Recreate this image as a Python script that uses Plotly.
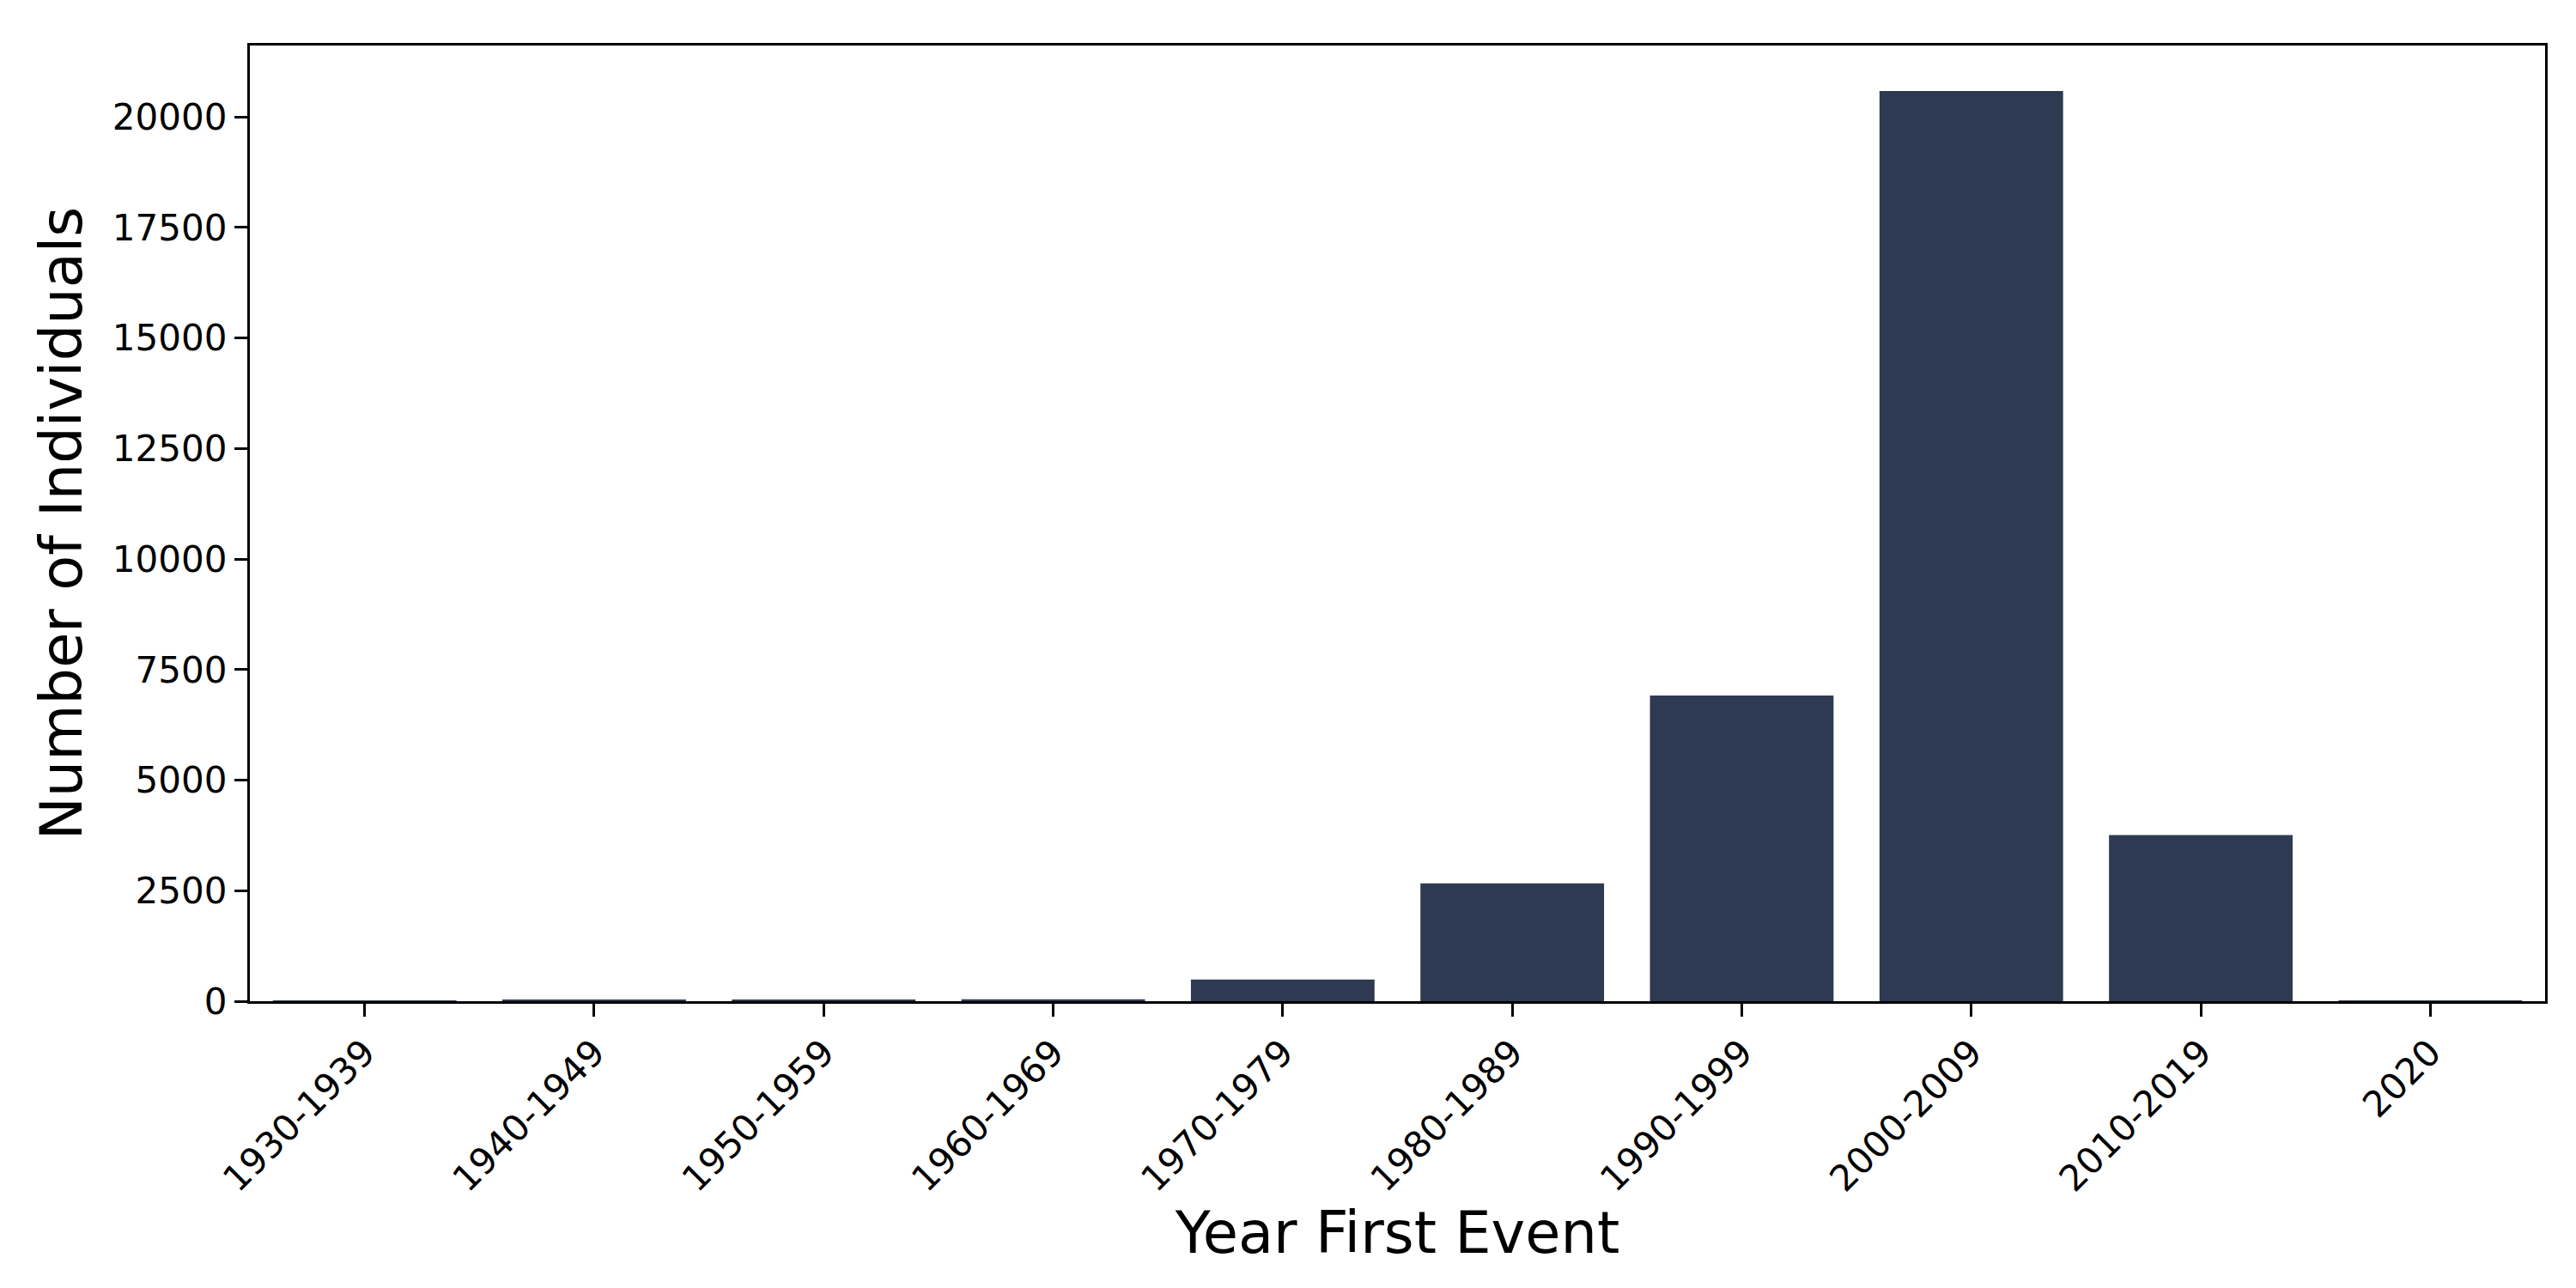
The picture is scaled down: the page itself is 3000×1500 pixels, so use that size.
import plotly.graph_objects as go

# decades of first event and how many individuals
decades = ["1930-1939", "1940-1949", "1950-1959", "1960-1969", "1970-1979",
           "1980-1989", "1990-1999", "2000-2009", "2010-2019", "2020"]
counts = [3, 25, 25, 45, 490, 2665, 6915, 20585, 3760, 1]

bar_color = "#2D3A51"
y_ticks = [0, 2500, 5000, 7500, 10000, 12500, 15000, 17500, 20000]

fig = go.Figure(data=[go.Bar(
    x=decades,
    y=counts,
    width=0.8,
    marker=dict(color=bar_color, line=dict(width=0)),
)])

fig.update_layout(
    width=3000,
    height=1500,
    autosize=False,
    margin=dict(l=283, r=44, t=45, b=342),
    plot_bgcolor="white",
    paper_bgcolor="white",
    font=dict(family="DejaVu Sans", color="black", size=42),
    showlegend=False,
)

fig.update_xaxes(
    title=dict(text="Year First Event", font=dict(size=67), standoff=16),
    range=[-0.5, 9.5],
    tickangle=-45,
    tickfont=dict(size=42),
    showline=True, mirror=True, linecolor="black", linewidth=3.3,
    ticks="outside", ticklen=15, tickwidth=3.3, tickcolor="black",
    showgrid=False, zeroline=False,
)

fig.update_yaxes(
    title=dict(text="Number of Individuals", font=dict(size=67), standoff=14),
    range=[0, max(counts) * 1.05],
    tickvals=y_ticks,
    ticktext=[str(v) for v in y_ticks],
    tickfont=dict(size=42),
    showline=True, mirror=True, linecolor="black", linewidth=3.3,
    ticks="outside", ticklen=15, tickwidth=3.3, tickcolor="black",
    showgrid=False, zeroline=False,
)

fig.write_html("out.html")
